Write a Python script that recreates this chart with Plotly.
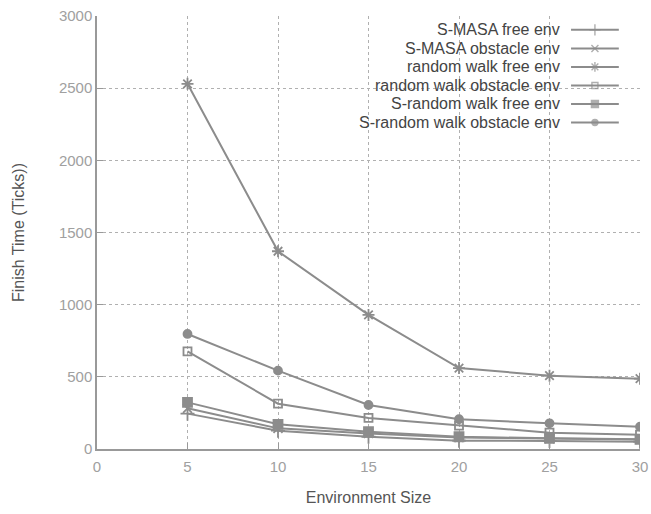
import plotly.graph_objects as go

env_size = [5, 10, 15, 20, 25, 30]
smasa_free = [245, 127, 85, 58, 55, 51]
smasa_obstacle = [282, 143, 108, 80, 72, 66]
rw_free = [2530, 1370, 929, 561, 508, 487]
rw_obstacle = [677, 314, 215, 162, 113, 99]
srw_free = [323, 171, 120, 85, 74, 67]
srw_obstacle = [797, 543, 305, 206, 178, 155]

series_names = ["S-MASA free env", "S-MASA obstacle env", "random walk free env",
                "random walk obstacle env", "S-random walk free env", "S-random walk obstacle env"]
series_values = [smasa_free, smasa_obstacle, rw_free, rw_obstacle, srw_free, srw_obstacle]
symbols = ["cross-thin-open", "x-thin-open", "asterisk-open", "square-open", "square", "circle"]
sizes = [10, 9, 10, 8, 9, 8]

x_ticks = [0, 5, 10, 15, 20, 25, 30]
y_ticks = [0, 500, 1000, 1500, 2000, 2500, 3000]

LINE = "#8c8c8c"
FONT = "Liberation Sans, Arial, sans-serif"

fig = go.Figure()
for name, vals, sym, sz in zip(series_names, series_values, symbols, sizes):
    fig.add_trace(go.Scatter(
        x=env_size, y=vals, name=name, mode="lines+markers",
        line=dict(color=LINE, width=2),
        marker=dict(symbol=sym, size=sz, color=LINE, line=dict(color=LINE, width=1.8)),
        showlegend=False,
    ))

# custom legend (text right-aligned, sample to the right), on an overlay axis
row_top = 0.968
row_step = 0.0428
for i, (name, sym, sz) in enumerate(zip(series_names, symbols, sizes)):
    yy = row_top - i * row_step
    fig.add_trace(go.Scatter(
        x=[0.873, 0.917, 0.961], y=[yy, yy, yy], mode="lines+markers",
        xaxis="x2", yaxis="y2", showlegend=False, hoverinfo="skip",
        line=dict(color=LINE, width=2),
        marker=dict(symbol=sym, size=[0, sz - 2, 0], color=LINE,
                    line=dict(color=LINE, width=1.4)),
    ))
    fig.add_annotation(x=0.856, y=yy, xref="x2", yref="y2", text=name,
                       showarrow=False, xanchor="right", yanchor="middle",
                       font=dict(family=FONT, size=16, color="#444444"))

fig.update_layout(
    width=651, height=514,
    margin=dict(l=97, r=11, t=16, b=65),
    paper_bgcolor="white", plot_bgcolor="white",
    font=dict(family=FONT, size=15, color="#555555"),
    xaxis=dict(range=[0, 30], tickvals=x_ticks, ticks="inside", ticklen=6,
               automargin=False, ticklabelstandoff=3,
               tickcolor="#999999", showline=True, linecolor="#999999", linewidth=1.5,
               showgrid=True, gridcolor="#b0b0b0", griddash="dot", gridwidth=1,
               zeroline=False, tickfont=dict(color="#a0a0a0", size=15, family=FONT),
               title=dict(text="Environment Size", font=dict(color="#555555", size=16, family=FONT),
                          standoff=18)),
    yaxis=dict(range=[0, 3000], tickvals=y_ticks, ticks="inside", ticklen=6,
               automargin=False,
               tickcolor="#999999", showline=True, linecolor="#999999", linewidth=1.5,
               showgrid=True, gridcolor="#b0b0b0", griddash="dot", gridwidth=1,
               zeroline=False, tickfont=dict(color="#a0a0a0", size=15, family=FONT),
               title=dict(text="Finish Time (Ticks))", font=dict(color="#555555", size=16, family=FONT),
                          standoff=30)),
    xaxis2=dict(range=[0, 1], overlaying="x", visible=False, fixedrange=True),
    yaxis2=dict(range=[0, 1], overlaying="y", visible=False, fixedrange=True),
)

fig.write_html("out.html")
